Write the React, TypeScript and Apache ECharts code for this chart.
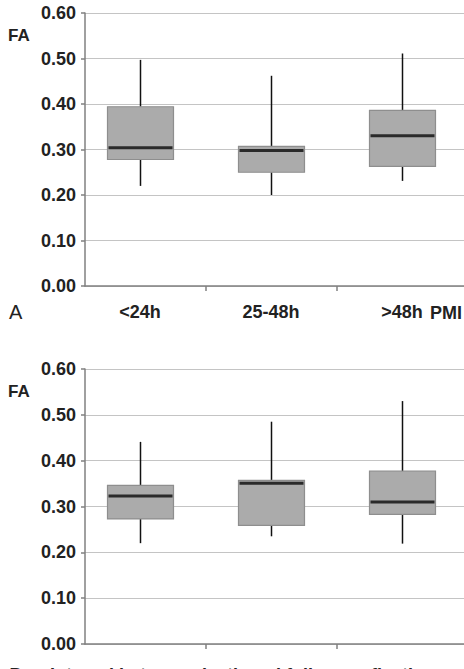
import React, { useEffect, useRef } from "react";
import * as echarts from "echarts";

// Group labels shared by both panels
const categories = ["<24h", "25-48h", ">48h"];

// Box statistics per group: [position, min, Q1, median, Q3, max]
const panelAStats = [
  [0, 0.22, 0.278, 0.304, 0.394, 0.497],
  [1, 0.2, 0.25, 0.298, 0.307, 0.462],
  [2, 0.231, 0.263, 0.33, 0.386, 0.511],
];
const panelBStats = [
  [0, 0.22, 0.273, 0.323, 0.346, 0.441],
  [1, 0.235, 0.259, 0.351, 0.357, 0.485],
  [2, 0.219, 0.283, 0.31, 0.377, 0.53],
];

const boundaryTicks = [0.5, 1.5];

const FONT = "'Liberation Sans', Arial, sans-serif";
const BOX_HALF = 33;

const renderBox = (params: any, api: any) => {
  const x = api.value(0);
  const pMin = api.coord([x, api.value(1)]);
  const pQ1 = api.coord([x, api.value(2)]);
  const pMed = api.coord([x, api.value(3)]);
  const pQ3 = api.coord([x, api.value(4)]);
  const pMax = api.coord([x, api.value(5)]);
  const cx = Math.round(pMed[0]) + 0.5;
  return {
    type: "group",
    children: [
      {
        type: "line",
        shape: { x1: cx, y1: pMax[1], x2: cx, y2: pQ3[1] },
        style: { stroke: "#111", lineWidth: 1.5 },
      },
      {
        type: "line",
        shape: { x1: cx, y1: pQ1[1], x2: cx, y2: pMin[1] },
        style: { stroke: "#111", lineWidth: 1.5 },
      },
      {
        type: "rect",
        shape: { x: cx - BOX_HALF, y: pQ3[1], width: BOX_HALF * 2, height: pQ1[1] - pQ3[1] },
        style: { fill: "#ababab", stroke: "#8e8e8e", lineWidth: 1.2 },
      },
      {
        type: "line",
        shape: { x1: cx - BOX_HALF + 1, y1: pMed[1], x2: cx + BOX_HALF - 1, y2: pMed[1] },
        style: { stroke: "#2a2a2a", lineWidth: 3 },
      },
    ],
  };
};

const makeXAxis = (gridIndex: number, showLabels: boolean) => ({
  type: "value",
  gridIndex,
  min: -0.42,
  max: 2.473,
  splitLine: { show: false },
  axisLine: { show: true, onZero: false, lineStyle: { color: "#808080", width: 1.5 } },
  axisTick: {
    show: true,
    customValues: boundaryTicks,
    length: 5,
    lineStyle: { color: "#808080", width: 1.5 },
  },
  axisLabel: {
    show: showLabels,
    customValues: [0, 1, 2],
    formatter: (v: number) => categories[Math.round(v)] ?? "",
    margin: 17,
    fontFamily: FONT,
    fontWeight: "bold",
    fontSize: 18,
    color: "#222",
  },
});

const makeYAxis = (gridIndex: number) => ({
  type: "value",
  gridIndex,
  min: 0,
  max: 0.6,
  interval: 0.1,
  axisLine: { show: true, onZero: false, lineStyle: { color: "#808080", width: 1.5 } },
  axisTick: { show: true, length: 4, lineStyle: { color: "#808080", width: 1.5 } },
  splitLine: { show: true, lineStyle: { color: "#c4c4c4", width: 1.2 } },
  axisLabel: {
    margin: 9,
    formatter: (v: number) => v.toFixed(2),
    fontFamily: FONT,
    fontWeight: "bold",
    fontSize: 18,
    color: "#222",
  },
});

export default function App() {
  const ref = useRef<HTMLDivElement>(null);

  useEffect(() => {
    if (!ref.current) return;
    const chart = echarts.init(ref.current, null, { renderer: "svg" });
    chart.setOption({
      animation: false,
      backgroundColor: "#ffffff",
      grid: [
        { left: 85, right: 0, top: 13, height: 273 },
        { left: 85, right: 0, top: 369, height: 275 },
      ],
      xAxis: [makeXAxis(0, true), makeXAxis(1, false)],
      yAxis: [makeYAxis(0), makeYAxis(1)],
      series: [
        {
          type: "custom",
          xAxisIndex: 0,
          yAxisIndex: 0,
          renderItem: renderBox,
          encode: { x: 0, y: [1, 2, 3, 4, 5] },
          data: panelAStats,
        },
        {
          type: "custom",
          xAxisIndex: 1,
          yAxisIndex: 1,
          renderItem: renderBox,
          encode: { x: 0, y: [1, 2, 3, 4, 5] },
          data: panelBStats,
        },
      ],
      graphic: [
        {
          type: "text",
          left: 8,
          top: 27,
          style: { text: "FA", font: `bold 17px ${FONT}`, fill: "#222" },
        },
        {
          type: "text",
          left: 8,
          top: 383,
          style: { text: "FA", font: `bold 17px ${FONT}`, fill: "#222" },
        },
        {
          type: "text",
          left: 9,
          top: 302,
          style: { text: "A", font: `20px ${FONT}`, fill: "#222" },
        },
        {
          type: "text",
          left: 430,
          top: 304,
          style: { text: "PMI", font: `bold 18px ${FONT}`, fill: "#222" },
        },
        {
          type: "text",
          x: 9,
          y: 665,
          style: { text: "B", font: `20px ${FONT}`, fill: "#222" },
        },
        {
          type: "text",
          x: 50,
          y: 666,
          style: {
            text: "Interval between death and follow-up fixation",
            font: `bold 18px ${FONT}`,
            fill: "#222",
          },
        },
      ],
    });
    return () => chart.dispose();
  }, []);

  return (
    <div
      ref={ref}
      style={{ position: "absolute", left: 0, top: 0, width: 464, height: 669 }}
    />
  );
}
